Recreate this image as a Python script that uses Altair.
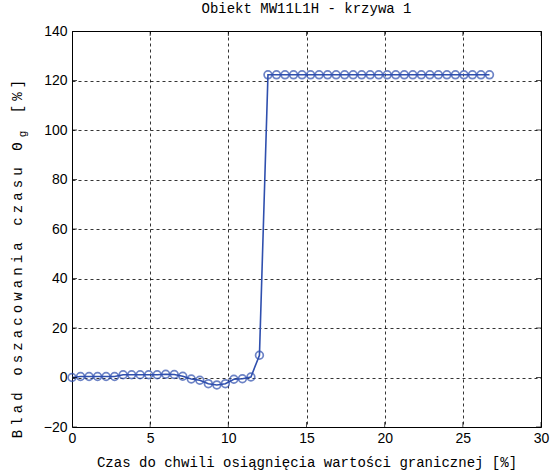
import altair as alt
import pandas as pd

# x positions (% of time) and estimation error values
step = 0.545
n_points = 50
x_vals = [round(i * step, 3) for i in range(n_points)]
low_part = [0.0, 0.4, 0.4, 0.4, 0.4, 0.4, 1.1, 1.1, 1.1, 1.1, 1.1,
            1.3, 1.2, 0.5, -0.6, -1.1, -2.5, -3.0, -2.5, -0.7, -0.5, 0.2]
jump_point = [9.0]
high_part = [122.3] * (n_points - len(low_part) - len(jump_point))
y_vals = low_part + jump_point + high_part

x_ticks = [0, 5, 10, 15, 20, 25, 30]
y_ticks = [-20, 0, 20, 40, 60, 80, 100, 120, 140]

title_text = "Obiekt MW11L1H - krzywa 1"
x_title = "Czas do chwili osiągnięcia wartości granicznej [%]"
# y title: characters, "_g" marks the subscript after Theta
y_title_chars = list("Blad oszacowania czasu Θ") + ["_g"] + list(" [%]")

df = pd.DataFrame({"x": x_vals, "y": y_vals})
xt = pd.DataFrame({"t": x_ticks})
yt = pd.DataFrame({"t": y_ticks})

blue = "#2f4fae"
mono = "Liberation Mono"
sans = "Liberation Sans Narrow, Liberation Sans, Arial"

W, H = 469, 396

xscale = alt.Scale(domain=[0, 30], nice=False, zero=False)
yscale = alt.Scale(domain=[-20, 140], nice=False, zero=False)

xaxis = alt.Axis(values=x_ticks, grid=True, gridDash=[3, 3], gridColor="#000000",
                 gridOpacity=1, gridWidth=0.8, tickSize=0, domain=False,
                 labelFont=sans, labelFontSize=14, labelColor="#000000",
                 labelPadding=4, labelFlush=False,
                 title=x_title,
                 titleFont=mono, titleFontSize=14, titleFontWeight="normal",
                 titleColor="#000000", titlePadding=10)
yaxis = alt.Axis(values=y_ticks, grid=True, gridDash=[3, 3], gridColor="#000000",
                 gridOpacity=1, gridWidth=0.8, tickSize=0, domain=False,
                 labelFont=sans, labelFontSize=14, labelColor="#000000",
                 labelPadding=5, labelFlush=False, title=None)

line = alt.Chart(df).mark_line(color=blue, strokeWidth=1.6).encode(
    x=alt.X("x:Q", scale=xscale, axis=xaxis),
    y=alt.Y("y:Q", scale=yscale, axis=yaxis),
)
pts = alt.Chart(df).mark_point(shape="circle", filled=False, color=blue,
                               size=60, strokeWidth=1.7).encode(
    x=alt.X("x:Q", scale=xscale),
    y=alt.Y("y:Q", scale=yscale),
)

# inward ticks (MATLAB box style)
tick_kw = dict(color="black", size=10, thickness=1, clip=True)
xt_bottom = alt.Chart(xt).mark_tick(**tick_kw).encode(
    x=alt.X("t:Q", scale=xscale), y=alt.value(H))
xt_top = alt.Chart(xt).mark_tick(**tick_kw).encode(
    x=alt.X("t:Q", scale=xscale), y=alt.value(0))
yt_left = alt.Chart(yt).mark_tick(**tick_kw).encode(
    y=alt.Y("t:Q", scale=yscale), x=alt.value(0))
yt_right = alt.Chart(yt).mark_tick(**tick_kw).encode(
    y=alt.Y("t:Q", scale=yscale), x=alt.value(W))

# rotated, letter-spaced y title (as drawn by the original figure)
one = pd.DataFrame({"a": [0]})
ytitle_layers = []
y_start, y_step, x_center = 403, 12.5, -54
for i, ch in enumerate(y_title_chars):
    if ch == " ":
        continue
    if ch == "_g":
        ytitle_layers.append(
            alt.Chart(one).mark_text(text="g", angle=270, font=mono, fontSize=11,
                                     color="black", align="center", baseline="middle")
            .encode(x=alt.value(x_center + 5), y=alt.value(y_start - y_step * i)))
    else:
        ytitle_layers.append(
            alt.Chart(one).mark_text(text=ch, angle=270, font=mono, fontSize=14,
                                     color="black", align="center", baseline="middle")
            .encode(x=alt.value(x_center), y=alt.value(y_start - y_step * i)))

chart = alt.layer(line, pts, xt_bottom, xt_top, yt_left, yt_right, *ytitle_layers).properties(
    width=W, height=H,
    title=alt.TitleParams(title_text, font=mono, fontSize=14,
                          fontWeight="normal", color="#000000", anchor="middle",
                          offset=8),
    autosize=alt.AutoSizeParams(type="none"),
    padding={"left": 72, "top": 31, "right": 13, "bottom": 48},
    background="white",
).configure_view(stroke="black", strokeWidth=1)

chart.save("out.html", embed_options={"renderer": "svg", "actions": False})
